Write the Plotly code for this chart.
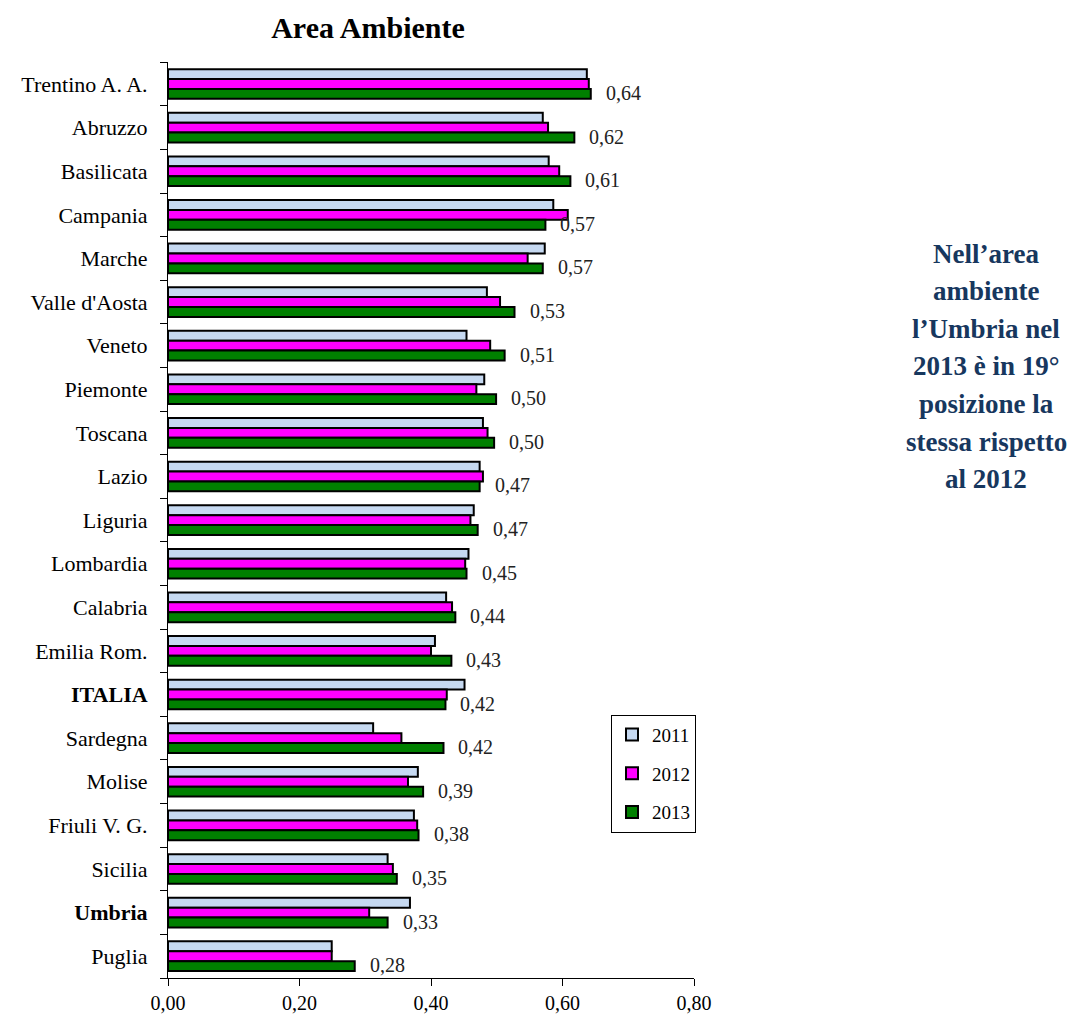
import plotly.graph_objects as go

regions = ["Trentino A. A.", "Abruzzo", "Basilicata", "Campania", "Marche", "Valle d'Aosta",
           "Veneto", "Piemonte", "Toscana", "Lazio", "Liguria", "Lombardia", "Calabria",
           "Emilia Rom.", "ITALIA", "Sardegna", "Molise", "Friuli V. G.", "Sicilia", "Umbria", "Puglia"]
bold_regions = ["ITALIA", "Umbria"]

v2011 = [0.637, 0.570, 0.579, 0.586, 0.573, 0.485, 0.454, 0.481, 0.479, 0.474, 0.465,
         0.457, 0.423, 0.406, 0.451, 0.312, 0.380, 0.374, 0.334, 0.368, 0.249]
v2012 = [0.640, 0.578, 0.595, 0.608, 0.547, 0.505, 0.490, 0.469, 0.486, 0.479, 0.460,
         0.452, 0.432, 0.400, 0.424, 0.355, 0.365, 0.379, 0.342, 0.306, 0.249]
v2013 = [0.643, 0.618, 0.612, 0.574, 0.570, 0.527, 0.512, 0.499, 0.496, 0.474, 0.471,
         0.454, 0.437, 0.431, 0.422, 0.419, 0.388, 0.381, 0.348, 0.334, 0.284]

series = [("2011", v2011, "#C6D9F1"), ("2012", v2012, "#FF00FF"), ("2013", v2013, "#008000")]
x_ticks = [0.0, 0.2, 0.4, 0.6, 0.8]

side_lines = ["Nell’area", "ambiente", "l’Umbria nel", "2013 è in 19°",
              "posizione la", "stessa rispetto", "al 2012"]

SERIF = "Liberation Serif, Times New Roman, serif"

W, H = 1076, 1018
ML, MR, MT, MB = 160, 390, 54, 42
PW, PH = W - ML - MR, H - MT - MB

fig = go.Figure()
for name, vals, col in series:
    fig.add_trace(go.Bar(
        y=regions, x=vals, name=name, orientation="h",
        marker=dict(color=col, line=dict(color="black", width=2)),
        legendgroup=name, hoverinfo="skip"))

ticktext = [f"<b>{r}</b>" if r in bold_regions else r for r in regions]

annotations = []
for r, v in zip(regions, v2013):
    annotations.append(dict(
        x=v, y=r, xref="x", yref="y", text=f"{v:.2f}".replace(".", ","),
        showarrow=False, xanchor="left", yanchor="middle", xshift=13, yshift=-9,
        font=dict(family=SERIF, size=20, color="#222222")))

# side note, one line per annotation to control line spacing
for i, line in enumerate(side_lines):
    ypix = 247 + 37.8 * i
    annotations.append(dict(
        x=(978 - ML) / PW, y=(H - MB - ypix) / PH, xref="paper", yref="paper",
        text=f"<b>{line}</b>", showarrow=False,
        xanchor="center", yanchor="middle", align="center",
        font=dict(family=SERIF, size=27, color="#17375E")))

fig.update_layout(
    width=W, height=H,
    margin=dict(l=ML, r=MR, t=MT, b=MB),
    paper_bgcolor="white", plot_bgcolor="white",
    barmode="group", bargap=0.32, bargroupgap=0,
    separators=",.",
    title=dict(text="<b>Area Ambiente</b>", x=360 / W, xanchor="center", y=1 - 19 / H,
               yanchor="middle", font=dict(family=SERIF, size=30, color="black")),
    font=dict(family=SERIF, color="black"),
    legend=dict(x=(603 - ML) / PW, y=(H - MB - 711) / PH, xanchor="left", yanchor="top",
                bordercolor="black", borderwidth=1, bgcolor="white",
                font=dict(family=SERIF, size=19, color="black"),
                tracegroupgap=11, itemwidth=30),
    xaxis=dict(range=[0, 0.8], tickvals=x_ticks, tickformat=".2f",
               showline=True, linecolor="black", linewidth=1,
               ticks="outside", ticklen=7, tickcolor="black",
               showgrid=False, zeroline=False,
               tickfont=dict(family=SERIF, size=20, color="black")),
    yaxis=dict(autorange="reversed", tickvals=regions, ticktext=ticktext,
               showline=True, linecolor="black", linewidth=1,
               ticks="outside", ticklen=7, tickcolor="black", tickson="boundaries",
               ticklabelstandoff=15,
               showgrid=False, zeroline=False,
               tickfont=dict(family=SERIF, size=22, color="black")),
    annotations=annotations,
)

fig.write_html("out.html")
